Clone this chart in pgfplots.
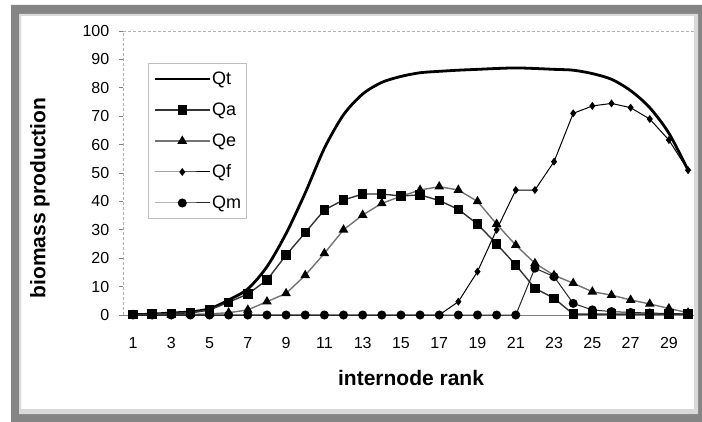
\documentclass[border=0pt]{standalone}
\usepackage{pgfplots}
\pgfplotsset{compat=1.18}
\usepackage{pgfplotstable}
\usepackage{fontspec}
\setmainfont{Liberation Sans}
\definecolor{framegray}{HTML}{858585}
\definecolor{framelight}{HTML}{D9D9D9}

\pgfplotstableread{
x   Qt    Qa    Qe    Qf    Qm
1   0.1   0.1   0.0   0.0   0.0
2   0.3   0.3   0.0   0.0   0.0
3   0.7   0.6   0.1   0.0   0.0
4   1.1   0.9   0.2   0.0   0.0
5   2.2   1.8   0.4   0.0   0.0
6   5.3   4.5   0.8   0.0   0.0
7   9.2   7.4   1.8   0.0   0.0
8   17.0  12.3  4.7   0.0   0.0
9   28.7  21.1  7.6   0.0   0.0
10  43.0  29.0  14.0  0.0   0.0
11  58.7  37.0  21.7  0.0   0.0
12  70.5  40.5  30.0  0.0   0.0
13  77.8  42.6  35.2  0.0   0.0
14  81.9  42.6  39.3  0.0   0.0
15  84.0  41.9  41.8  0.0   0.0
16  85.3  42.3  44.0  0.0   0.0
17  85.8  40.3  45.2  0.0   0.0
18  86.2  37.2  44.0  4.7   0.0
19  86.5  32.0  40.0  15.3  0.0
20  86.8  25.0  32.0  30.0  0.0
21  87.0  17.6  24.6  44.0  0.0
22  86.8  9.4   18.2  44.0  16.5
23  86.5  5.9   14.0  54.0  13.5
24  86.2  0.3   11.2  71.0  4.1
25  85.0  0.3   8.2   73.6  1.8
26  83.0  0.3   7.0   74.5  1.2
27  79.0  0.3   5.3   73.0  0.9
28  73.0  0.3   3.9   69.0  0.7
29  64.0  0.3   2.3   61.6  0.5
30  51.0  0.3   0.8   51.0  0.4
}\datatable

\begin{document}
\begin{tikzpicture}[x=1bp,y=1bp]
\useasboundingbox (0,0) rectangle (702,421);
\fill[white] (0,0) rectangle (702,421);
\begin{axis}[
  at={(123.4bp,106bp)}, anchor=south west,
  scale only axis, width=574.2bp, height=284bp,
  xmin=0.5, xmax=30.5, ymin=0, ymax=100,
  clip=false,
  axis x line*=bottom, axis y line*=left,
  x axis line style={gray, line width=0.8bp, -},
  y axis line style={gray!60, densely dashed, line width=0.8bp, -},
  xtick={1,3,...,29},
  ytick={0,10,...,100},
  tick align=outside,
  major tick length=4bp,
  xtick style={draw=none},
  ytick style={gray, line width=0.8bp, solid},
  /pgf/number format/assume math mode=true,
  ticklabel style={font=\fontsize{16bp}{19bp}\selectfont},
  yticklabel style={inner sep=0pt, anchor=east, xshift=-10bp},
  xticklabel style={inner sep=0pt, anchor=north, yshift=-18bp},
  xlabel={internode rank},
  ylabel={biomass production},
  label style={font=\fontsize{21bp}{25bp}\selectfont\bfseries},
  xlabel style={at={(axis description cs:0.5009,-0.2465)}, anchor=base},
  ylabel style={at={(axis description cs:-0.1452,0.412)}, anchor=center},
  after end axis/.code={\draw[gray!60, densely dashed, line width=0.8bp] (rel axis cs:0,1) -- (rel axis cs:1,1);},
  legend image code/.code={\draw[mark repeat=2, mark phase=2] plot coordinates {(0bp,0bp) (27.5bp,0bp) (55bp,0bp)};},
  legend cell align=left,
  legend style={at={(axis description cs:0.0428,0.887)}, anchor=north west,
    draw=gray!50, line width=0.8bp, inner xsep=5bp, inner ysep=0pt,
    font=\fontsize{18bp}{21bp}\selectfont,
    nodes={inner sep=0pt, minimum height=31bp}, column sep=1bp},
]
\addplot[black, line width=2.8bp, smooth, no markers] table[x=x, y=Qt] {\datatable};
\addlegendentry{Qt}
\addplot[black!80, line width=1.4bp, mark=square*, mark size=4bp, mark options={black, solid}] table[x=x, y=Qa] {\datatable};
\addlegendentry{Qa}
\addplot[black!55, line width=1.4bp, mark=triangle*, mark size=4.2bp, mark options={black, solid}] table[x=x, y=Qe] {\datatable};
\addlegendentry{Qe}
\addplot[black, line width=1bp, mark=diamond*, mark size=3.2bp, mark options={black, solid}] table[x=x, y=Qf] {\datatable};
\addlegendentry{Qf}
\addplot[black!85, line width=1bp, mark=*, mark size=4bp, mark options={black, solid}] table[x=x, y=Qm] {\datatable};
\addlegendentry{Qm}
\end{axis}
% chart frame
\fill[framegray, even odd rule] (11,-10) rectangle (712,416) (19,7) rectangle (698,407);
\fill[framelight, even odd rule] (19,7) rectangle (698,407) (21,12) rectangle (694,405);
\end{tikzpicture}
\end{document}
